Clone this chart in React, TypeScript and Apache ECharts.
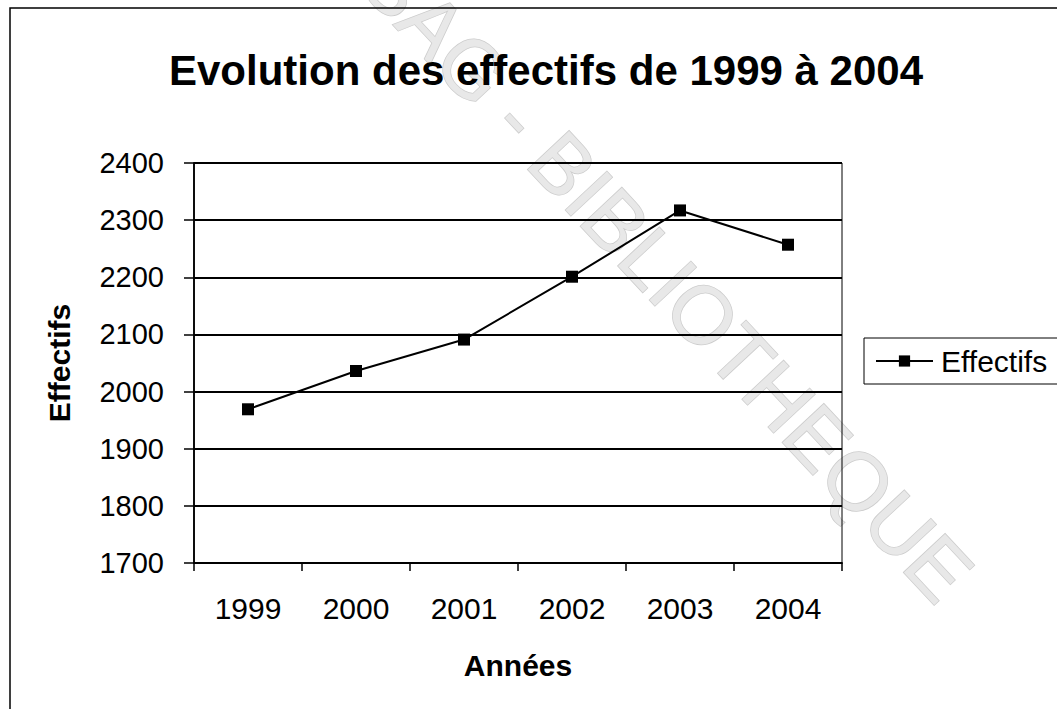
import React, { useEffect, useRef } from "react";
import * as echarts from "echarts";

const titleText = "Evolution des effectifs de 1999 à 2004";
const categories = ["1999", "2000", "2001", "2002", "2003", "2004"];
const seriesName = "Effectifs";
const effectifs = [1969, 2036, 2091, 2201, 2317, 2257];
const yMin = 1700;
const yMax = 2400;
const yStep = 100;
const xAxisName = "Années";
const yAxisName = "Effectifs";
const watermark = "CESAG - BIBLIOTHEQUE";

const FONT = "'Liberation Sans', Arial, sans-serif";

export default function App() {
  const ref = useRef<HTMLDivElement>(null);
  useEffect(() => {
    document.body.style.margin = "0";
    if (!ref.current) return;
    const chart = echarts.init(ref.current, undefined, { renderer: "svg" });
    chart.setOption({
      animation: false,
      backgroundColor: "#ffffff",
      title: {
        text: titleText,
        left: 541,
        textAlign: "center",
        top: 44,
        textStyle: { fontFamily: FONT, fontSize: 42, fontWeight: "bold", color: "#000" },
      },
      legend: {
        show: true,
        left: 864,
        top: 338,
        orient: "vertical",
        data: [seriesName],
        borderColor: "#000",
        borderWidth: 1,
        backgroundColor: "#fff",
        padding: [8, 30, 8, 11],
        itemWidth: 57,
        itemHeight: 14,
        textStyle: { fontFamily: FONT, fontSize: 30, color: "#000", padding: [0, 0, 0, 3] },
      },
      graphic: [
        {
          type: "text",
          z: -10,
          silent: true,
          x: 628,
          y: 235,
          rotation: (-47 * Math.PI) / 180,
          style: {
            text: watermark,
            fontFamily: FONT,
            fontSize: 82,
            fill: "#e8e8e8",
            stroke: "#cccccc",
            lineWidth: 1.5,
            align: "center",
            verticalAlign: "middle",
          },
        },
        {
          type: "rect",
          silent: true,
          z: -5,
          shape: { x: 10, y: 8, width: 1100, height: 800 },
          style: { fill: "none", stroke: "#000", lineWidth: 1.5 },
        },
      ],
      grid: {
        left: 194,
        top: 163,
        width: 648,
        height: 400,
        show: true,
        borderColor: "#000",
        borderWidth: 1,
        backgroundColor: "transparent",
        containLabel: false,
      },
      xAxis: {
        type: "category",
        data: categories,
        boundaryGap: true,
        name: xAxisName,
        nameLocation: "middle",
        nameGap: 87,
        nameTextStyle: { fontFamily: FONT, fontSize: 30, fontWeight: "bold", color: "#000" },
        axisLine: { show: true, lineStyle: { color: "#000", width: 1.8 } },
        axisTick: { show: true, length: 8, inside: false, alignWithLabel: false, lineStyle: { color: "#000", width: 1.5 } },
        axisLabel: { fontFamily: FONT, fontSize: 30, color: "#000", margin: 30, interval: 0 },
        splitLine: { show: false },
      },
      yAxis: {
        type: "value",
        min: yMin,
        max: yMax,
        interval: yStep,
        name: yAxisName,
        nameLocation: "middle",
        nameGap: 120,
        nameRotate: 90,
        nameTextStyle: { fontFamily: FONT, fontSize: 30, fontWeight: "bold", color: "#000" },
        axisLine: { show: true, lineStyle: { color: "#000", width: 1.8 } },
        axisTick: { show: true, length: 10, inside: false, lineStyle: { color: "#000", width: 1.5 } },
        axisLabel: {
          fontFamily: FONT,
          fontSize: 29,
          color: "#000",
          margin: 30,
          formatter: (v: number) => String(v),
        },
        splitLine: { show: true, lineStyle: { color: "#000", width: 1.8 } },
      },
      series: [
        {
          name: seriesName,
          type: "line",
          data: effectifs,
          symbol: "rect",
          symbolSize: 12,
          showSymbol: true,
          lineStyle: { color: "#000", width: 2 },
          itemStyle: { color: "#000" },
          z: 5,
        },
      ],
    });
    return () => chart.dispose();
  }, []);
  return <div ref={ref} style={{ width: 1057, height: 709 }} />;
}
